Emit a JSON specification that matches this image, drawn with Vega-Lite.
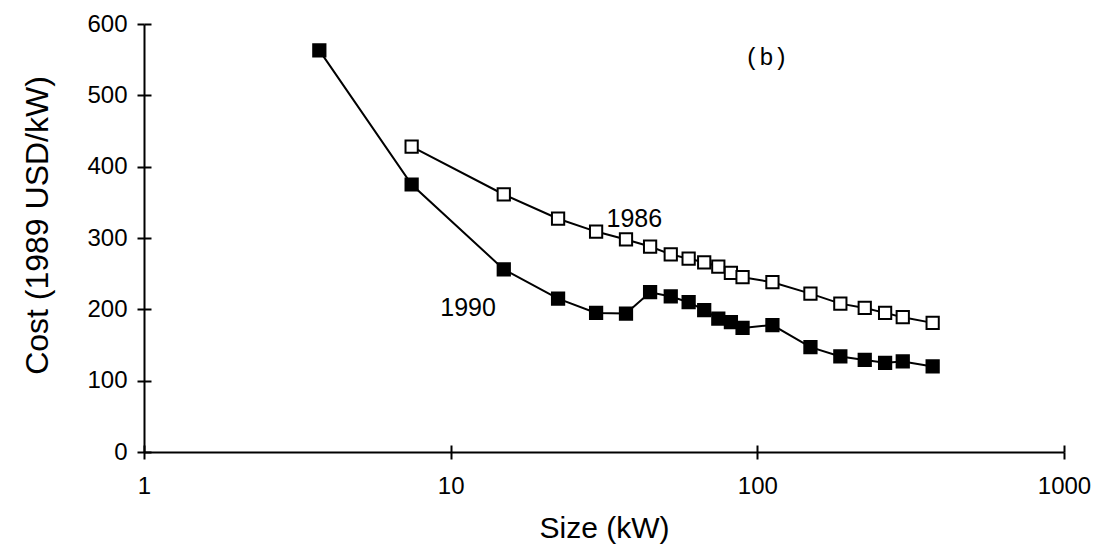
{
  "$schema": "https://vega.github.io/schema/vega-lite/v6.json",
  "width": 920,
  "height": 428,
  "autosize": "none",
  "padding": {"left": 144, "top": 24, "right": 32, "bottom": 97},
  "background": "white",
  "config": {
    "view": {"stroke": null},
    "font": "Liberation Sans",
    "axis": {
      "domainColor": "black",
      "domainWidth": 2,
      "tickColor": "black",
      "tickWidth": 2,
      "tickSize": 7,
      "grid": false,
      "labelColor": "black",
      "titleColor": "black",
      "labelFont": "Liberation Sans",
      "titleFont": "Liberation Sans",
      "titleFontWeight": "normal",
      "labelFlush": false,
      "labelOverlap": false
    }
  },
  "resolve": {"axis": {"x": "independent", "y": "independent"}},
  "datasets": {
    "pts": [
      {"size": 3.73, "cost": 563, "series": "1990"},
      {"size": 7.46, "cost": 375, "series": "1990"},
      {"size": 14.9, "cost": 256, "series": "1990"},
      {"size": 22.4, "cost": 215, "series": "1990"},
      {"size": 29.8, "cost": 195, "series": "1990"},
      {"size": 37.3, "cost": 194, "series": "1990"},
      {"size": 44.7, "cost": 224, "series": "1990"},
      {"size": 52.2, "cost": 218, "series": "1990"},
      {"size": 59.7, "cost": 210, "series": "1990"},
      {"size": 67.1, "cost": 199, "series": "1990"},
      {"size": 74.6, "cost": 187, "series": "1990"},
      {"size": 82.0, "cost": 182, "series": "1990"},
      {"size": 89.5, "cost": 174, "series": "1990"},
      {"size": 112, "cost": 178, "series": "1990"},
      {"size": 149, "cost": 147, "series": "1990"},
      {"size": 186.5, "cost": 134, "series": "1990"},
      {"size": 224, "cost": 129, "series": "1990"},
      {"size": 261, "cost": 125, "series": "1990"},
      {"size": 298, "cost": 127, "series": "1990"},
      {"size": 373, "cost": 120, "series": "1990"},
      {"size": 7.46, "cost": 428, "series": "1986"},
      {"size": 14.9, "cost": 361, "series": "1986"},
      {"size": 22.4, "cost": 327, "series": "1986"},
      {"size": 29.8, "cost": 309, "series": "1986"},
      {"size": 37.3, "cost": 298, "series": "1986"},
      {"size": 44.7, "cost": 288, "series": "1986"},
      {"size": 52.2, "cost": 277, "series": "1986"},
      {"size": 59.7, "cost": 271, "series": "1986"},
      {"size": 67.1, "cost": 266, "series": "1986"},
      {"size": 74.6, "cost": 260, "series": "1986"},
      {"size": 82.0, "cost": 251, "series": "1986"},
      {"size": 89.5, "cost": 245, "series": "1986"},
      {"size": 112, "cost": 238, "series": "1986"},
      {"size": 149, "cost": 222, "series": "1986"},
      {"size": 186.5, "cost": 208, "series": "1986"},
      {"size": 224, "cost": 202, "series": "1986"},
      {"size": 261, "cost": 195, "series": "1986"},
      {"size": 298, "cost": 189, "series": "1986"},
      {"size": 373, "cost": 181, "series": "1986"}
    ],
    "labels": [
      {"size": 39.7, "cost": 326, "text": "1986"},
      {"size": 11.4, "cost": 202, "text": "1990"}
    ],
    "panel": [
      {"size": 107, "cost": 553, "text": "(b)"}
    ]
  },
  "layer": [
    {
      "data": {"name": "pts"},
      "mark": {"type": "line", "color": "black", "strokeWidth": 2},
      "encoding": {
        "x": {
          "field": "size", "type": "quantitative",
          "scale": {"type": "log", "domain": [1, 1000]},
          "axis": {
            "title": "Size (kW)",
            "values": [1, 10, 100, 1000],
            "format": "d",
            "labelFontSize": 24,
            "titleFontSize": 30,
            "labelPadding": 15,
            "titlePadding": 15
          }
        },
        "y": {
          "field": "cost", "type": "quantitative",
          "scale": {"domain": [0, 600], "nice": false},
          "axis": {
            "title": "Cost (1989 USD/kW)",
            "values": [0, 100, 200, 300, 400, 500, 600],
            "labelFontSize": 24,
            "titleFontSize": 32,
            "labelPadding": 10,
            "titlePadding": 32,
            "titleY": 201
          }
        },
        "detail": {"field": "series"}
      }
    },
    {
      "data": {"name": "pts"},
      "mark": {"type": "point", "shape": "square", "filled": false, "stroke": "black", "strokeWidth": 2, "size": 150, "opacity": 1},
      "encoding": {
        "x": {
          "field": "size", "type": "quantitative",
          "scale": {"type": "log", "domain": [1, 1000]},
          "axis": {"orient": "bottom", "values": [1, 10, 100, 1000], "tickSize": -7, "labels": false, "domain": false, "title": null}
        },
        "y": {
          "field": "cost", "type": "quantitative",
          "scale": {"domain": [0, 600], "nice": false},
          "axis": {"orient": "left", "values": [0, 100, 200, 300, 400, 500, 600], "tickSize": -7, "labels": false, "domain": false, "title": null}
        },
        "fill": {
          "field": "series", "type": "nominal",
          "scale": {"domain": ["1986", "1990"], "range": ["white", "black"]},
          "legend": null
        }
      }
    },
    {
      "data": {"name": "labels"},
      "mark": {"type": "text", "font": "Liberation Sans", "fontSize": 25, "color": "black", "align": "center", "baseline": "middle"},
      "encoding": {
        "x": {"field": "size", "type": "quantitative", "axis": null},
        "y": {"field": "cost", "type": "quantitative", "axis": null},
        "text": {"field": "text"}
      }
    },
    {
      "data": {"name": "panel"},
      "mark": {"type": "text", "font": "Liberation Mono", "fontSize": 24, "color": "black", "align": "center", "baseline": "middle"},
      "encoding": {
        "x": {"field": "size", "type": "quantitative", "axis": null},
        "y": {"field": "cost", "type": "quantitative", "axis": null},
        "text": {"field": "text"}
      }
    }
  ]
}
